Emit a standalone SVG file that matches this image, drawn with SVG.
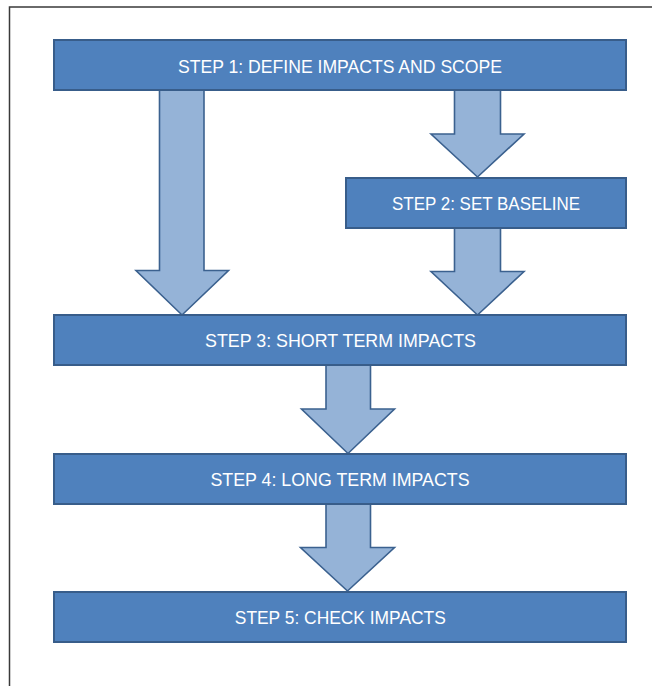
<svg xmlns="http://www.w3.org/2000/svg" width="652" height="686" viewBox="0 0 652 686">
<style>
.box{fill:#4F81BD;stroke:#385D8A;stroke-width:2}
.arr{fill:#95B3D7;stroke:#3B618F;stroke-width:1.6;stroke-linejoin:miter}
.lbl{fill:#FFFFFF;font-family:"Liberation Sans",Arial,sans-serif;font-size:18px;text-anchor:middle}
</style>
<rect x="0" y="0" width="652" height="686" fill="#FFFFFF"/>
<path d="M9.5 686 V7 H652" fill="none" stroke="#3a3a3a" stroke-width="1.5"/>
<g id="connectors">
<path class="arr" d="M159.5 90 H204 V270.5 H228.5 L182 315 L136 270.5 H159.5 Z"/>
<path class="arr" d="M454.5 90 H500.5 V134 H524 L477.5 177 L431 134 H454.5 Z"/>
<path class="arr" d="M454.5 228 H500.5 V271.5 H524 L477.5 315 L431 271.5 H454.5 Z"/>
<path class="arr" d="M326 365 H370.5 V409 H394.5 L348 453.5 L301.5 409 H326 Z"/>
<path class="arr" d="M326 504 H370.5 V547.5 H394.5 L347.5 591 L300.5 547.5 H326 Z"/>
</g>
<g id="step1">
<rect class="box" x="54" y="40" width="572" height="50"/>
<text class="lbl" x="340" y="72.7" textLength="324" lengthAdjust="spacingAndGlyphs">STEP 1: DEFINE IMPACTS AND SCOPE</text>
</g>
<g id="step2">
<rect class="box" x="346" y="178" width="280" height="50"/>
<text class="lbl" x="486" y="210.3" textLength="188" lengthAdjust="spacingAndGlyphs">STEP 2: SET BASELINE</text>
</g>
<g id="step3">
<rect class="box" x="54" y="315" width="572" height="50"/>
<text class="lbl" x="340.5" y="347.3" textLength="271" lengthAdjust="spacingAndGlyphs">STEP 3: SHORT TERM IMPACTS</text>
</g>
<g id="step4">
<rect class="box" x="54" y="454" width="572" height="50"/>
<text class="lbl" x="340" y="485.5" textLength="259" lengthAdjust="spacingAndGlyphs">STEP 4: LONG TERM IMPACTS</text>
</g>
<g id="step5">
<rect class="box" x="54" y="592" width="572" height="50"/>
<text class="lbl" x="340.3" y="623.6" textLength="211" lengthAdjust="spacingAndGlyphs">STEP 5: CHECK IMPACTS</text>
</g>
</svg>
